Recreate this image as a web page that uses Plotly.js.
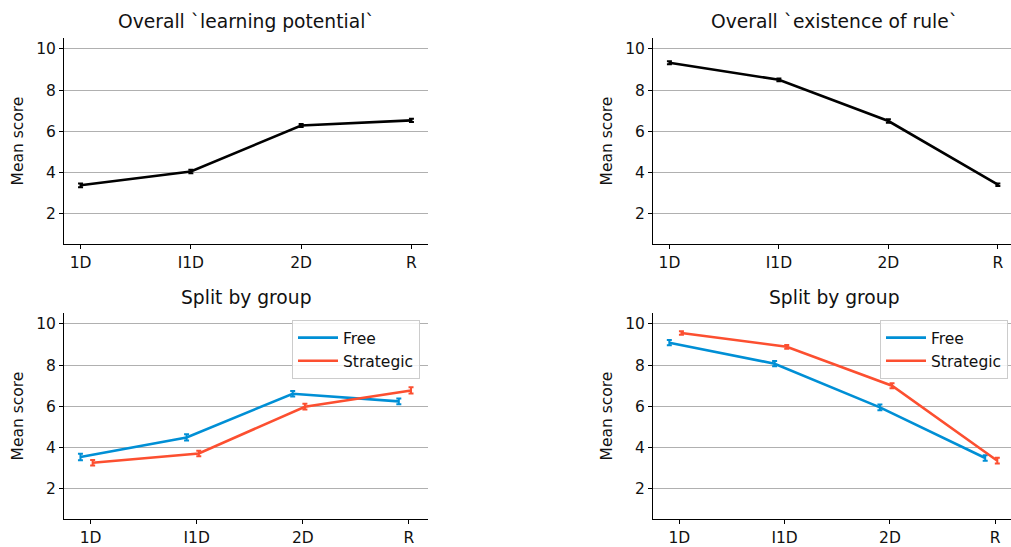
<!DOCTYPE html>
<html>
<head>
<meta charset="utf-8">
<script src="https://cdn.plot.ly/plotly-3.0.1.min.js"></script>
<style>html,body{margin:0;padding:0;overflow:hidden;background:#fff}</style>
</head>
<body>
<div id="chart" style="width:1011px;height:547px"></div>
<script>
// ---- data ----
const categories = ["1D", "I1D", "2D", "R"];
const catPos = [0, 1, 2, 3];
const groups = ["Free", "Strategic"];
const groupOffset = [-0.095, 0.02];

const learningOverall = [3.38, 4.05, 6.28, 6.53];
const learningOverallErr = [0.09, 0.08, 0.07, 0.08];
const ruleOverall = [9.33, 8.50, 6.50, 3.41];
const ruleOverallErr = [0.07, 0.07, 0.08, 0.06];

const learningFree = [3.54, 4.49, 6.61, 6.24];
const learningFreeErr = [0.16, 0.15, 0.13, 0.14];
const learningStrategic = [3.26, 3.71, 5.98, 6.77];
const learningStrategicErr = [0.13, 0.13, 0.14, 0.15];

const ruleFree = [9.09, 8.07, 5.95, 3.49];
const ruleFreeErr = [0.13, 0.13, 0.14, 0.13];
const ruleStrategic = [9.56, 8.89, 7.00, 3.36];
const ruleStrategicErr = [0.08, 0.09, 0.12, 0.14];

const titles = ["Overall `learning potential`", "Overall `existence of rule`", "Split by group", "Split by group"];
const colors = {Free: "#008fd5", Strategic: "#fc4f30", overall: "#000000"};

// ---- helpers ----
const W = 1011, H = 547;
function px(x) { return x / W; }
function py(y) { return 1 - y / H; }

function errTrace(xs, ys, errs, color, name, xa, ya, showleg, legend) {
  return {
    type: "scatter", mode: "lines",
    x: xs, y: ys, name: name,
    xaxis: xa, yaxis: ya,
    line: {color: color, width: 2.6},
    error_y: {type: "data", array: errs, visible: true, color: color, thickness: 2, width: 2.5},
    showlegend: showleg, legend: legend
  };
}
function shift(off) { return catPos.map(v => v + off); }

const traces = [
  errTrace(catPos, learningOverall, learningOverallErr, colors.overall, "overall", "x", "y", false),
  errTrace(catPos, ruleOverall, ruleOverallErr, colors.overall, "overall", "x2", "y2", false),
  errTrace(shift(groupOffset[0]), learningFree, learningFreeErr, colors.Free, groups[0], "x3", "y3", true, "legend"),
  errTrace(shift(groupOffset[1]), learningStrategic, learningStrategicErr, colors.Strategic, groups[1], "x3", "y3", true, "legend"),
  errTrace(shift(groupOffset[0]), ruleFree, ruleFreeErr, colors.Free, groups[0], "x4", "y4", true, "legend2"),
  errTrace(shift(groupOffset[1]), ruleStrategic, ruleStrategicErr, colors.Strategic, groups[1], "x4", "y4", true, "legend2")
];

const FS = 15.5;
const font = {family: "DejaVu Sans, sans-serif", color: "#111", size: FS};

function xaxis(domain, range, anchor) {
  return {
    domain: domain, range: range, anchor: anchor,
    tickvals: catPos, ticktext: categories,
    showline: true, linecolor: "#000", linewidth: 1, mirror: false,
    ticks: "outside", ticklen: 4, tickcolor: "#000", tickwidth: 1,
    showgrid: false, zeroline: false, fixedrange: true,
    tickfont: {size: FS}
  };
}
function yaxis(domain, anchor) {
  return {
    domain: domain, range: [0.53, 10.53], anchor: anchor,
    tickvals: [2, 4, 6, 8, 10],
    showline: true, linecolor: "#000", linewidth: 1, mirror: false,
    ticks: "outside", ticklen: 4, tickcolor: "#000", tickwidth: 1,
    showgrid: true, gridcolor: "#b0b0b0", gridwidth: 1,
    zeroline: false, fixedrange: true,
    tickfont: {size: FS},
    title: {text: "Mean score", font: {size: FS}, standoff: 8}
  };
}

const xL = [px(64), px(428)], xR = [px(653), 1];
const yT = [py(244), py(38)], yB = [py(519), py(313)];

const legendBase = {
  xanchor: "left", yanchor: "top",
  bgcolor: "rgba(255,255,255,0.85)", bordercolor: "#cccccc", borderwidth: 1,
  font: {size: FS}, tracegroupgap: 0, itemwidth: 40
};

const layout = {
  width: W, height: H,
  margin: {l: 0, r: 0, t: 0, b: 0},
  paper_bgcolor: "#fff", plot_bgcolor: "#fff",
  font: font,
  showlegend: true,
  xaxis: xaxis(xL, [-0.15, 3.15], "y"),
  yaxis: yaxis(yT, "x"),
  xaxis2: xaxis(xR, [-0.15, 3.12], "y2"),
  yaxis2: yaxis(yT, "x2"),
  xaxis3: xaxis(xL, [-0.25, 3.18], "y3"),
  yaxis3: yaxis(yB, "x3"),
  xaxis4: xaxis(xR, [-0.25, 3.15], "y4"),
  yaxis4: yaxis(yB, "x4"),
  legend: Object.assign({x: px(292), y: py(320)}, legendBase),
  legend2: Object.assign({x: px(880), y: py(320)}, legendBase),
  annotations: [
    {text: titles[0], x: px(246), y: py(22), xref: "paper", yref: "paper", showarrow: false, font: {size: 18.7}, xanchor: "center", yanchor: "middle"},
    {text: titles[1], x: px(834), y: py(22), xref: "paper", yref: "paper", showarrow: false, font: {size: 18.7}, xanchor: "center", yanchor: "middle"},
    {text: titles[2], x: px(246), y: py(298), xref: "paper", yref: "paper", showarrow: false, font: {size: 18.7}, xanchor: "center", yanchor: "middle"},
    {text: titles[3], x: px(834), y: py(298), xref: "paper", yref: "paper", showarrow: false, font: {size: 18.7}, xanchor: "center", yanchor: "middle"}
  ]
};

Plotly.newPlot("chart", traces, layout, {displayModeBar: false, staticPlot: true});
</script>
</body>
</html>
